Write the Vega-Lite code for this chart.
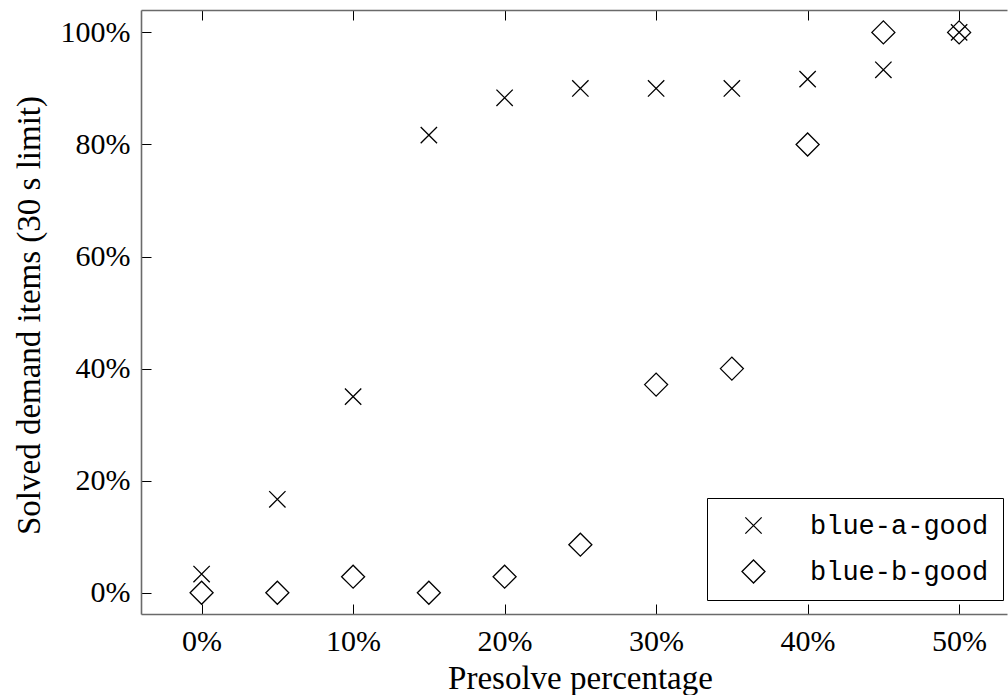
{
  "$schema": "https://vega.github.io/schema/vega-lite/v6.json",
  "autosize": "none",
  "width": 866,
  "height": 604,
  "padding": {"left": 141, "top": 10, "right": 1, "bottom": 81},
  "background": "white",
  "config": {
    "view": {"stroke": null},
    "axis": {
      "grid": false,
      "domainColor": "#6a6a6a",
      "domainWidth": 1.6,
      "tickColor": "black",
      "tickWidth": 1,
      "tickSize": -10,
      "labelFont": "Liberation Serif",
      "labelFontSize": 30,
      "labelColor": "black",
      "titleFont": "Liberation Serif",
      "titleFontSize": 33,
      "titleFontWeight": "normal",
      "titleColor": "black"
    }
  },
  "data": {
    "values": [
      {"p": 0, "v": 3.33, "s": "blue-a-good"},
      {"p": 5, "v": 16.67, "s": "blue-a-good"},
      {"p": 10, "v": 35.0, "s": "blue-a-good"},
      {"p": 15, "v": 81.67, "s": "blue-a-good"},
      {"p": 20, "v": 88.33, "s": "blue-a-good"},
      {"p": 25, "v": 90.0, "s": "blue-a-good"},
      {"p": 30, "v": 90.0, "s": "blue-a-good"},
      {"p": 35, "v": 90.0, "s": "blue-a-good"},
      {"p": 40, "v": 91.67, "s": "blue-a-good"},
      {"p": 45, "v": 93.33, "s": "blue-a-good"},
      {"p": 50, "v": 100.0, "s": "blue-a-good"},
      {"p": 0, "v": 0, "s": "blue-b-good"},
      {"p": 5, "v": 0, "s": "blue-b-good"},
      {"p": 10, "v": 2.86, "s": "blue-b-good"},
      {"p": 15, "v": 0, "s": "blue-b-good"},
      {"p": 20, "v": 2.86, "s": "blue-b-good"},
      {"p": 25, "v": 8.57, "s": "blue-b-good"},
      {"p": 30, "v": 37.14, "s": "blue-b-good"},
      {"p": 35, "v": 40.0, "s": "blue-b-good"},
      {"p": 40, "v": 80.0, "s": "blue-b-good"},
      {"p": 45, "v": 100.0, "s": "blue-b-good"},
      {"p": 50, "v": 100.0, "s": "blue-b-good"}
    ]
  },
  "layer": [
    {
      "mark": {"type": "point", "filled": false, "stroke": "black", "strokeWidth": 1.3, "size": 529, "opacity": 1},
      "encoding": {
        "x": {
          "field": "p", "type": "quantitative",
          "scale": {"domain": [-4, 53.16], "nice": false, "zero": false},
          "axis": {
            "orient": "bottom",
            "values": [0, 10, 20, 30, 40, 50],
            "labelExpr": "datum.value + '%'",
            "labelPadding": 22,
            "title": "Presolve percentage",
            "titleBaseline": "alphabetic",
            "titleY": 74,
            "titleX": 439
          }
        },
        "y": {
          "field": "v", "type": "quantitative",
          "scale": {"domain": [-3.8, 104], "nice": false, "zero": false},
          "axis": {
            "orient": "left",
            "values": [0, 20, 40, 60, 80, 100],
            "labelExpr": "datum.value + '%'",
            "labelPadding": 21,
            "title": "Solved demand items (30 s limit)",
            "titleBaseline": "alphabetic",
            "titleAngle": -90,
            "titleX": -102,
            "titleY": 305
          }
        },
        "shape": {
          "field": "s", "type": "nominal",
          "scale": {"domain": ["blue-a-good", "blue-b-good"], "range": ["M-0.71,-0.71L0.71,0.71M-0.71,0.71L0.71,-0.71", "diamond"]},
          "legend": {
            "title": null,
            "orient": "none",
            "legendX": 566,
            "legendY": 488,
            "strokeColor": "black",
            "fillColor": "white",
            "padding": 14,
            "rowPadding": 18,
            "symbolOffset": 19,
            "labelOffset": 43,
            "labelLimit": 400,
            "labelFont": "Liberation Mono",
            "labelFontSize": 27,
            "labelColor": "black",
            "symbolSize": 529,
            "symbolStrokeWidth": 1.3,
            "symbolStrokeColor": "black",
            "symbolFillColor": "transparent",
            "cornerRadius": 0
          }
        }
      }
    },
    {
      "mark": {"type": "point", "opacity": 0},
      "encoding": {
        "x": {
          "field": "p", "type": "quantitative",
          "scale": {"domain": [-4, 53.16], "nice": false, "zero": false},
          "axis": {"orient": "top", "values": [0, 10, 20, 30, 40, 50], "labels": false, "title": null}
        },
        "y": {"field": "v", "type": "quantitative"}
      }
    }
  ],
  "resolve": {"axis": {"x": "independent"}}
}
